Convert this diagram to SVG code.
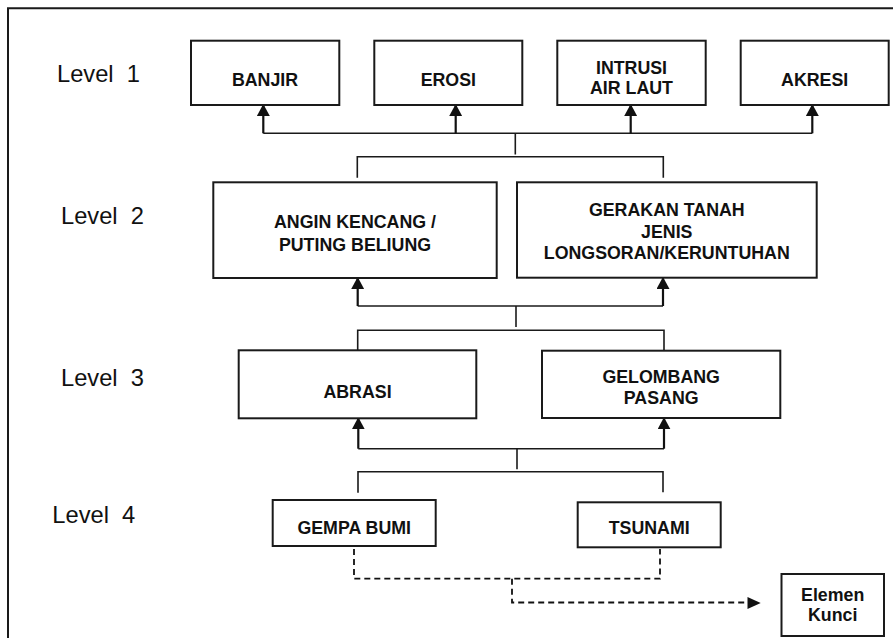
<svg xmlns="http://www.w3.org/2000/svg" width="893" height="638" viewBox="0 0 893 638">
<style>
  .box { fill: #ffffff; stroke: #1a1a1a; stroke-width: 2; }
  .t { font-family: "Liberation Sans", Arial, sans-serif; font-weight: bold; font-size: 17.8px; fill: #111; text-anchor: middle; }
  .lvl { font-family: "Liberation Sans", Arial, sans-serif; font-size: 23.7px; fill: #111; }
  .ln { fill: none; stroke: #1a1a1a; stroke-width: 1.6; }
  .stem { fill: none; stroke: #111; stroke-width: 2.2; marker-end: url(#ah); }
  .dash { fill: none; stroke: #111; stroke-width: 1.8; stroke-dasharray: 6 4; }
</style>
<defs>
  <marker id="ah" markerUnits="userSpaceOnUse" viewBox="0 0 12 13" refX="12" refY="6.5" markerWidth="12" markerHeight="13" orient="auto">
    <path d="M0,0 L12,6.5 L0,13 Z" fill="#111"/>
  </marker>
</defs>
<rect width="893" height="638" fill="#ffffff"/>
<path d="M8,638 V8.3 H893" fill="none" stroke="#1a1a1a" stroke-width="2"/>

<g id="labels">
  <text class="lvl" x="57" y="81.5" xml:space="preserve">Level  1</text>
  <text class="lvl" x="61" y="224.3" xml:space="preserve">Level  2</text>
  <text class="lvl" x="61" y="386" xml:space="preserve">Level  3</text>
  <text class="lvl" x="52.3" y="522.7" xml:space="preserve">Level  4</text>
</g>

<g id="connectors">
  <!-- level 1 -->
  <path class="ln" d="M263.3,133.3 H812.3"/>
  <path class="stem" d="M263.3,133.3 V104"/>
  <path class="stem" d="M455.7,133.3 V104"/>
  <path class="stem" d="M630.7,133.3 V104"/>
  <path class="stem" d="M812.3,133.3 V104"/>
  <path class="ln" d="M515.3,133.3 V154.5"/>
  <path class="ln" d="M357.3,177.7 V156.7 H663.3 V177.7"/>
  <!-- level 2 -->
  <path class="ln" d="M357.7,306 H663"/>
  <path class="stem" d="M357.7,306 V277"/>
  <path class="stem" d="M663,306 V277"/>
  <path class="ln" d="M516,306 V327"/>
  <path class="ln" d="M357.7,350.3 V330.3 H664 V350.3"/>
  <!-- level 3 -->
  <path class="ln" d="M358.3,448.7 H664"/>
  <path class="stem" d="M358.3,448.7 V417.3"/>
  <path class="stem" d="M664,448.7 V417.3"/>
  <path class="ln" d="M517,448.7 V469.3"/>
  <path class="ln" d="M358,492.7 V471.7 H663 V492.3"/>
  <!-- dashed to key -->
  <path class="dash" d="M354,549 V578.7 H660 V549"/>
  <path class="dash" d="M512,578.7 V602.5 H750"/>
  <path d="M747.5,597 L760.7,603 L747.5,609 Z" fill="#111"/>
</g>

<g id="n-banjir">
  <rect class="box" x="191" y="40.7" width="148.3" height="64.3"/>
  <text class="t" x="265" y="86.3">BANJIR</text>
</g>
<g id="n-erosi">
  <rect class="box" x="374.3" y="40.7" width="148" height="64.3"/>
  <text class="t" x="448.3" y="86.3">EROSI</text>
</g>
<g id="n-intrusi">
  <rect class="box" x="557.3" y="40.7" width="148.4" height="64.3"/>
  <text class="t" x="631.5" y="73.5">INTRUSI</text>
  <text class="t" x="631.5" y="94">AIR LAUT</text>
</g>
<g id="n-akresi">
  <rect class="box" x="740.7" y="40.7" width="148" height="64.3"/>
  <text class="t" x="814.7" y="86.3">AKRESI</text>
</g>

<g id="n-angin">
  <rect class="box" x="213.3" y="182.3" width="283.4" height="95.7"/>
  <text class="t" x="355" y="228.3">ANGIN KENCANG /</text>
  <text class="t" x="355" y="251">PUTING BELIUNG</text>
</g>
<g id="n-gerakan">
  <rect class="box" x="517" y="182.3" width="299.7" height="95.4"/>
  <text class="t" x="666.8" y="216">GERAKAN TANAH</text>
  <text class="t" x="666.8" y="237.7">JENIS</text>
  <text class="t" x="666.8" y="259.3">LONGSORAN/KERUNTUHAN</text>
</g>

<g id="n-abrasi">
  <rect class="box" x="238.7" y="350.3" width="237.6" height="68"/>
  <text class="t" x="357.5" y="397.7">ABRASI</text>
</g>
<g id="n-gelombang">
  <rect class="box" x="542" y="350.7" width="238.3" height="67.3"/>
  <text class="t" x="661.2" y="382.5">GELOMBANG</text>
  <text class="t" x="661.2" y="404">PASANG</text>
</g>

<g id="n-gempa">
  <rect class="box" x="272.7" y="500" width="163" height="46"/>
  <text class="t" x="354.2" y="533.5">GEMPA BUMI</text>
</g>
<g id="n-tsunami">
  <rect class="box" x="577.7" y="502.3" width="143" height="45"/>
  <text class="t" x="649.2" y="534">TSUNAMI</text>
</g>

<g id="n-elemen">
  <rect class="box" x="781.5" y="574" width="102.5" height="62"/>
  <text class="t" x="832.7" y="600.7">Elemen</text>
  <text class="t" x="832.7" y="621">Kunci</text>
</g>
</svg>
